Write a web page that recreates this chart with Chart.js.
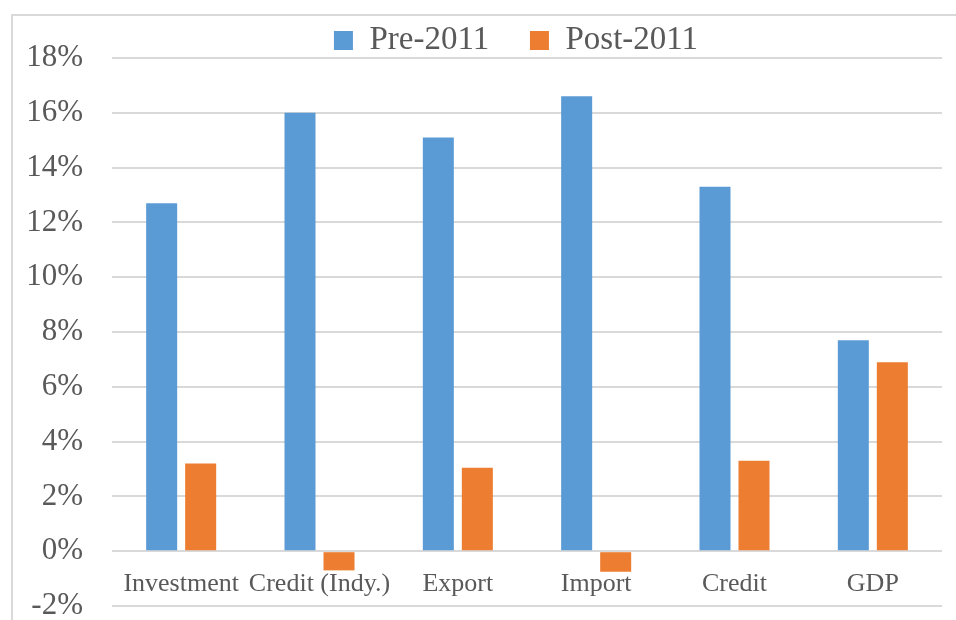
<!DOCTYPE html>
<html>
<head>
<meta charset="utf-8">
<script src="https://cdn.jsdelivr.net/npm/chart.js@4"></script>
<style>
  html, body { margin: 0; padding: 0; background: #fff; }
  #wrap { position: relative; width: 956px; height: 620px; overflow: hidden; }
  #frame { position: absolute; left: 11px; top: 14px; width: 1000px; height: 700px;
           border-top: 2px solid #d9d9d9; border-left: 2px solid #d9d9d9; box-sizing: border-box; }
  canvas { position: absolute; left: 0; top: 0; }
</style>
</head>
<body>
<div id="wrap">
  <div id="frame"></div>
  <canvas id="myChart" width="956" height="620"></canvas>
</div>
<script>
// Data
const categories = ['Investment', 'Credit (Indy.)', 'Export', 'Import', 'Credit', 'GDP'];
const preValues = [12.7, 16.0, 15.1, 16.6, 13.3, 7.7];
const postValues = [3.2, -0.7, 3.05, -0.75, 3.3, 6.9];
const seriesNames = ['Pre-2011', 'Post-2011'];

const FONT = "'Liberation Serif', 'DejaVu Serif', serif";
const TEXT = '#595959';

// The legend in the original is centred over the plot, not the whole canvas
const shiftLegend = {
  id: 'shiftLegend',
  afterLayout(chart) {
    chart.legend.left += 45;
    chart.legend.right += 45;
  }
};

function initializeChart() {
  const ctx = document.getElementById('myChart').getContext('2d');
  return new Chart(ctx, {
    type: 'bar',
    data: {
      labels: categories,
      datasets: [
        {
          label: seriesNames[0],
          data: preValues,
          backgroundColor: '#5b9bd5',
          categoryPercentage: 0.564,
          barPercentage: 0.795
        },
        {
          label: seriesNames[1],
          data: postValues,
          backgroundColor: '#ed7d31',
          categoryPercentage: 0.564,
          barPercentage: 0.795
        }
      ]
    },
    plugins: [shiftLegend],
    options: {
      responsive: false,
      animation: false,
      layout: { padding: { top: 8, right: 14, bottom: 14, left: 0 } },
      plugins: {
        tooltip: { enabled: false },
        legend: {
          position: 'top',
          maxHeight: 50,
          labels: {
            font: { family: FONT, size: 33 },
            color: TEXT,
            boxWidth: 19,
            boxHeight: 19,
            padding: 16,
            // widen the gap after the first entry, like the original legend
            generateLabels: chart => {
              const items = Chart.defaults.plugins.legend.labels.generateLabels(chart);
              items[0].text = items[0].text + '   ';
              return items;
            }
          }
        }
      },
      scales: {
        x: {
          position: { y: 0 },
          afterFit: scale => { scale.height = 0; },
          grid: { display: false, drawTicks: false },
          border: { display: false },
          ticks: {
            font: { family: FONT, size: 26 },
            color: TEXT,
            padding: 17,
            autoSkip: false,
            maxRotation: 0
          }
        },
        y: {
          min: -2,
          max: 18,
          afterFit: scale => { scale.width = 112; },
          grid: {
            color: '#d9d9d9',
            lineWidth: 2,
            drawTicks: true,
            tickLength: 29,
            tickColor: 'rgba(0,0,0,0)'
          },
          border: { display: false },
          ticks: {
            stepSize: 2,
            font: { family: FONT, size: 31, lineHeight: 0.9 },
            color: TEXT,
            padding: 0,
            callback: v => v + '%'
          }
        }
      }
    }
  });
}

const myChart = initializeChart();
</script>
</body>
</html>
